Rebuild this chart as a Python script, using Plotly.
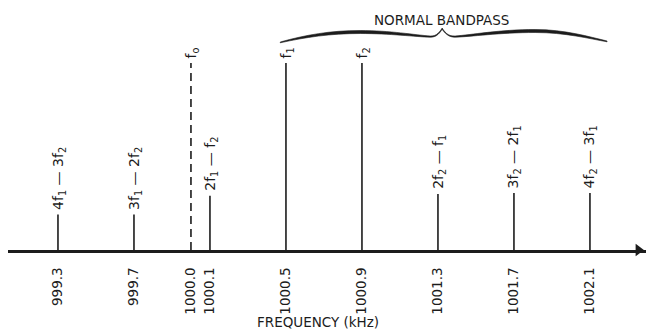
import plotly.graph_objects as go

# ---- data ----
freqs = [999.3, 999.7, 1000.0, 1000.1, 1000.5, 1000.9, 1001.3, 1001.7, 1002.1]
amps = [0.19, 0.19, 1.0, 0.29, 1.0, 1.0, 0.30, 0.305, 0.305]
stem_labels = [
    "4f<sub>1</sub> — 3f<sub>2</sub>",
    "3f<sub>1</sub> — 2f<sub>2</sub>",
    "f<sub>o</sub>",
    "2f<sub>1</sub> — f<sub>2</sub>",
    "f<sub>1</sub>",
    "f<sub>2</sub>",
    "2f<sub>2</sub> — f<sub>1</sub>",
    "3f<sub>2</sub> — 2f<sub>1</sub>",
    "4f<sub>2</sub> — 3f<sub>1</sub>",
]
tick_labels = ["999.3", "999.7", "1000.0", "1000.1", "1000.5", "1000.9", "1001.3", "1001.7", "1002.1"]
carrier_freq = 1000.0
band_lo, band_hi = 1000.47, 1002.19

INK = "#1c1c1c"
FONT = "DejaVu Sans"

fig = go.Figure()

# solid stems
xs, ys = [], []
for f, a in zip(freqs, amps):
    if f == carrier_freq:
        continue
    xs += [f, f, None]
    ys += [0, a, None]
fig.add_trace(go.Scatter(x=xs, y=ys, mode="lines", line=dict(color=INK, width=1.6),
                         hoverinfo="skip", showlegend=False, cliponaxis=False))
# dashed carrier
ca = amps[freqs.index(carrier_freq)]
fig.add_trace(go.Scatter(x=[carrier_freq, carrier_freq], y=[0, ca], mode="lines",
                         line=dict(color=INK, width=1.6, dash="8px,5px"),
                         hoverinfo="skip", showlegend=False, cliponaxis=False))

# axis arrowhead
fig.add_trace(go.Scatter(x=[1002.355], y=[0], mode="markers",
                         marker=dict(symbol="triangle-right", size=11, color=INK,
                                     line=dict(width=0)),
                         hoverinfo="skip", showlegend=False, cliponaxis=False))

# stem labels
for f, a, t in zip(freqs, amps, stem_labels):
    fig.add_annotation(x=f, y=a, text=t, textangle=-90, showarrow=False,
                       xanchor="center", yanchor="bottom", yshift=3, xshift=1,
                       font=dict(family=FONT, size=14, color=INK))

# brace over the normal bandpass (pixel-shaped, mapped to data)
PX_Y0, PX_UNIT = 250.0, 187.0
def bx(px):
    return band_lo + (px - 280.0) / (607.0 - 280.0) * (band_hi - band_lo)
def by(py):
    return (PX_Y0 - py) / PX_UNIT

upper = [
    ("M", [(280, 42)]),
    ("C", [(305, 35), (330, 30.5), (360, 30.5)]),
    ("C", [(390, 30.5), (415, 35), (430, 36)]),
    ("C", [(437, 36.5), (440, 31), (442, 28)]),
    ("C", [(444, 31), (447, 36.5), (455, 36)]),
    ("C", [(470, 35), (500, 29.5), (535, 29.5)]),
    ("C", [(565, 29.5), (590, 37), (607, 41)]),
]
lower = [
    ("L", [(607, 41.8)]),
    ("C", [(590, 38.8), (565, 32.5), (535, 32.5)]),
    ("C", [(500, 32.5), (470, 36.8), (455, 37.2)]),
    ("C", [(448, 37.5), (444, 32), (442, 29.4)]),
    ("C", [(440, 32), (437, 37.5), (430, 37.2)]),
    ("C", [(415, 36.8), (390, 33.5), (360, 33.5)]),
    ("C", [(330, 33.5), (305, 37.3), (280, 42.8)]),
]
path = ""
for cmd, pts in upper + lower:
    path += cmd + " " + " ".join(f"{bx(px):.5f},{by(py):.5f}" for px, py in pts) + " "
path += "Z"
fig.add_shape(type="path", path=path, xref="x", yref="y",
              fillcolor=INK, line=dict(color=INK, width=0.6))

fig.add_annotation(x=(band_lo + band_hi) / 2 - 0.01, y=by(20), text="NORMAL BANDPASS",
                   showarrow=False, xanchor="center", yanchor="middle",
                   font=dict(family=FONT, size=13.5, color=INK))

fig.add_annotation(xref="paper", yref="paper", x=(322 - 8) / 638, y=(250 - 322) / 250,
                   text="FREQUENCY (kHz)", showarrow=False, xanchor="center",
                   yanchor="middle", font=dict(family=FONT, size=13.5, color=INK))

fig.update_layout(
    width=646, height=330,
    margin=dict(l=0, r=0, t=0, b=80, autoexpand=False),
    paper_bgcolor="white", plot_bgcolor="white",
    xaxis=dict(domain=[8 / 646, 1], range=[999.037, 1002.395],
               showgrid=False, zeroline=False, showline=True, linewidth=3,
               linecolor=INK, tickmode="array", tickvals=freqs, ticktext=tick_labels,
               tickangle=-90, ticks="", ticklabelstandoff=9, automargin=False,
               tickfont=dict(family=FONT, size=13.5, color=INK)),
    yaxis=dict(range=[0, 250 / 187], visible=False, fixedrange=True),
    showlegend=False,
)

fig.write_html("out.html", config={"displayModeBar": False, "staticPlot": True},
               post_script="document.body.style.margin='0px';document.body.style.padding='0px';")
